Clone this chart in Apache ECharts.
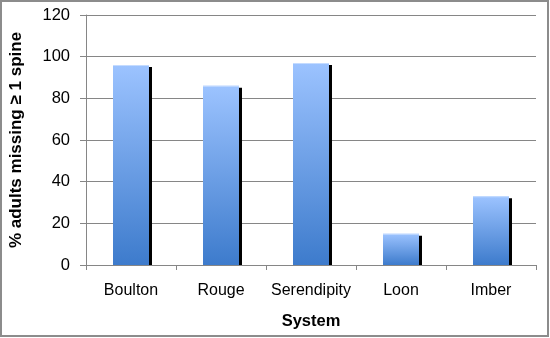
<!DOCTYPE html>
<html><head><meta charset="utf-8">
<script src="https://cdn.jsdelivr.net/npm/echarts@6/dist/echarts.min.js"></script>
<style>html,body{margin:0;padding:0;background:#fff}#c{width:550px;height:338px}</style>
</head><body><div id="c"></div>
<script>
var categories = ['Boulton', 'Rouge', 'Serendipity', 'Loon', 'Imber'];
var values = [96, 86, 97, 15, 33];
var yTicks = [0, 20, 40, 60, 80, 100, 120];

var chart = echarts.init(document.getElementById('c'), null, {renderer: 'canvas'});
var font = '"Liberation Sans", Arial, sans-serif';
function renderBar(params, api) {
  var idx = api.value(0);
  var top = api.coord([idx, api.value(1)]);
  var base = api.coord([idx, 0]);
  var bw = api.size([1, 0])[0] * 0.4;
  var x = top[0] - bw / 2;
  var h = base[1] - top[1];
  return {
    type: 'group',
    children: [
      {type: 'rect', shape: {x: x + 3, y: top[1] + 2, width: bw, height: Math.max(0, h - 2)},
       style: {fill: '#000'}},
      {type: 'rect', shape: {x: x, y: top[1], width: bw, height: h},
       style: {fill: new echarts.graphic.LinearGradient(0, 0, 0, 1, [
         {offset: 0, color: '#9cc3ff'}, {offset: 1, color: '#3d7bcc'}])}},
      {type: 'rect', shape: {x: x, y: top[1], width: bw, height: 1},
       style: {fill: '#c4dbff'}}
    ]
  };
}
chart.setOption({
  animation: false,
  grid: {left: 86, right: 14, top: 15, bottom: 73, containLabel: false, outerBoundsMode: 'none'},
  graphic: [{type: 'rect', shape: {x: 1, y: 1, width: 547, height: 335},
    style: {fill: null, stroke: '#8c8c8c', lineWidth: 2}, z: 100}],
  xAxis: {
    type: 'category', data: categories,
    name: 'System', nameLocation: 'middle', nameGap: 48,
    nameTextStyle: {fontFamily: font, fontWeight: 'bold', fontSize: 16.5, color: '#000'},
    axisLine: {lineStyle: {color: '#868686'}},
    axisTick: {show: true, length: 5, lineStyle: {color: '#868686'}},
    axisLabel: {fontFamily: font, fontSize: 16, color: '#000', margin: 18, interval: 0}
  },
  yAxis: {
    type: 'value', min: yTicks[0], max: yTicks[yTicks.length - 1], interval: 20,
    name: '% adults missing \u2265 1 spine', nameLocation: 'middle', nameGap: 61,
    nameTextStyle: {fontFamily: font, fontWeight: 'bold', fontSize: 17, color: '#000'},
    axisLine: {show: true, lineStyle: {color: '#868686'}},
    axisTick: {show: true, length: 6, lineStyle: {color: '#868686'}},
    axisLabel: {fontFamily: font, fontSize: 16.5, color: '#000', margin: 16},
    splitLine: {lineStyle: {color: '#868686', width: 1}}
  },
  series: [{
    type: 'custom', renderItem: renderBar,
    data: values.map(function (v, i) { return [i, v]; }),
    encode: {x: 0, y: 1}, clip: true
  }]
});
</script></body></html>
